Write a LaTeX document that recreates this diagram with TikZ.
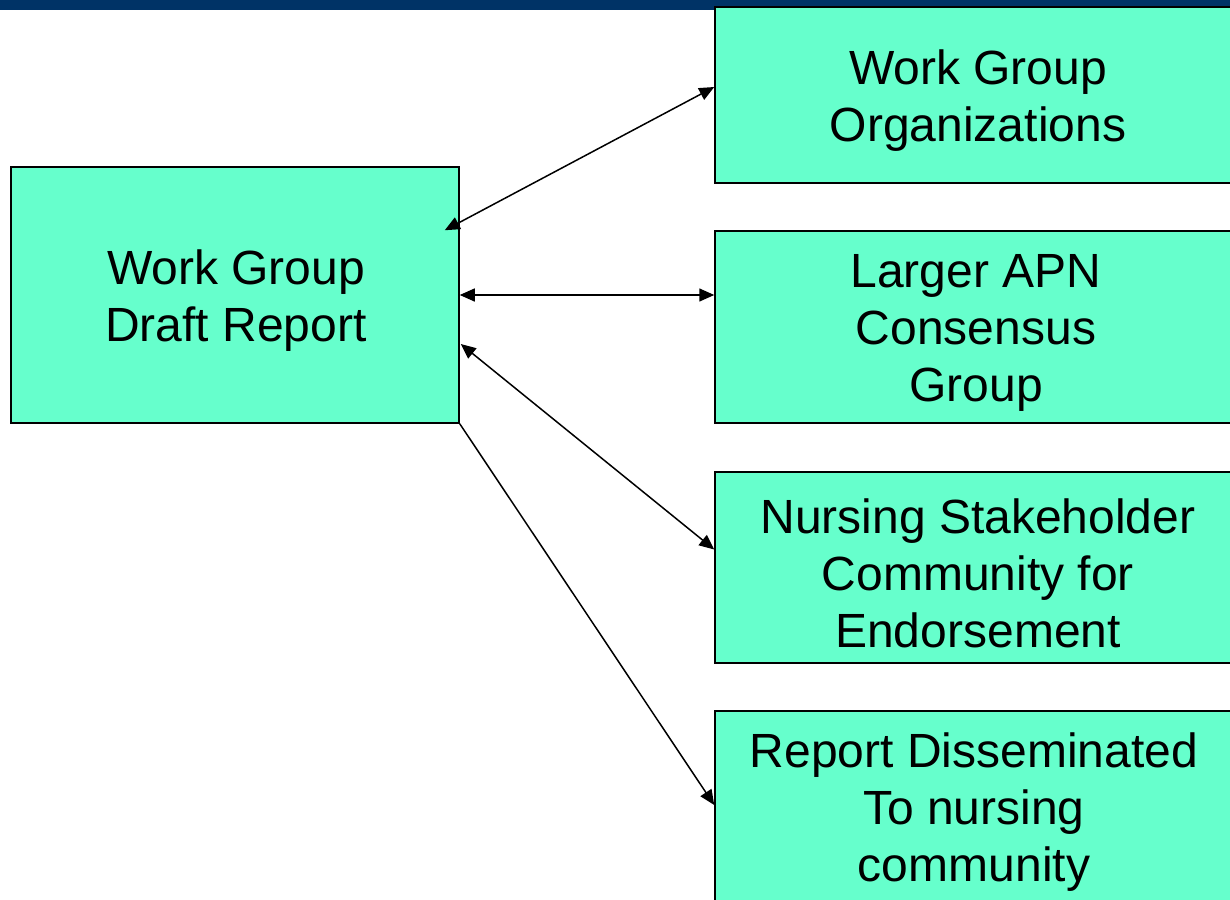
\documentclass[tikz,border=0pt]{standalone}
\usepackage{fontspec}
\setmainfont{Liberation Sans}
\usetikzlibrary{arrows.meta,calc}
\definecolor{barblue}{HTML}{003366}
\definecolor{boxgreen}{HTML}{66FFCC}
\tikzset{
  stagebox/.style={draw=black, line width=1.5pt, fill=boxgreen, rectangle,
    inner sep=0pt},
  stagetext/.style={align=center, inner sep=0pt,
    font=\fontsize{48}{57}\selectfont},
  link/.style={line width=1.5pt, draw=black},
  tip/.tip={Triangle[length=15pt,width=13pt]}
}
\begin{document}
\begin{tikzpicture}[x=1pt,y=-1pt]
  \useasboundingbox (0,0) rectangle (1230,899);
  \clip (0,0) rectangle (1230,899);
  % header bar
  \fill[barblue] (0,0) rectangle (1230,10);
  % boxes
  \node[stagebox, minimum width=448pt, minimum height=256pt] (draft) at (235,295) {};
  \node[stagebox, minimum width=526pt, minimum height=176pt] (org) at (978,95) {};
  \node[stagebox, minimum width=526pt, minimum height=192pt] (apn) at (978,327) {};
  \node[stagebox, minimum width=526pt, minimum height=191pt] (stake) at (978,567.5) {};
  \node[stagebox, minimum width=526pt, minimum height=191pt] (dissem) at (978,806.5) {};
  % box labels
  \node[stagetext] (draftlbl) at ($(draft)+(1,6)$) {Work Group\\Draft Report};
  \node[stagetext] (orglbl) at ($(org)+(0,6)$) {Work Group\\Organizations};
  \node[stagetext] (apnlbl) at ($(apn)+(-2,6)$) {Larger APN\\Consensus\\Group};
  \node[stagetext] (stakelbl) at ($(stake)+(0,6)$) {Nursing Stakeholder\\Community for\\Endorsement};
  \node[stagetext] (dissemlbl) at ($(dissem)+(-4,6)$) {Report Disseminated\\To nursing\\community};
  % connectors
  \draw[link, {tip}-{tip}] ($(draft.north east)+(-15,64)$) -- ($(org.west)+(0,-8)$);
  \draw[link, {tip}-{tip}] (draft.east) -- (apn.west |- draft.east);
  \draw[link, {tip}-{tip}] ($(draft.east)+(1,49)$) -- ($(stake.west)+(0,-18)$);
  \draw[link, -{tip}] (draft.south east) -- ($(dissem.west)+(0,-1.5)$);
\end{tikzpicture}
\end{document}
